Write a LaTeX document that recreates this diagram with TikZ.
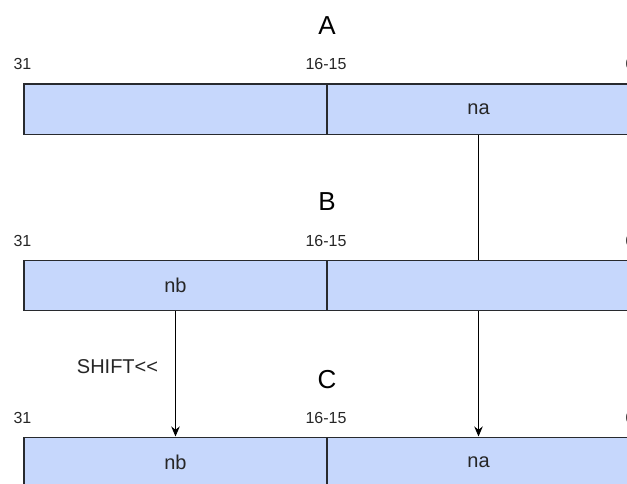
\documentclass[tikz,border=0pt]{standalone}
\usepackage{fontspec}
\setmainfont{Liberation Sans}[Ligatures=NoCommon]
\usetikzlibrary{arrows.meta}
\definecolor{cellfill}{RGB}{198,215,252}
\definecolor{cellline}{RGB}{40,42,46}
\begin{document}
\begin{tikzpicture}[x=1pt,y=-1pt,
  cell/.style={draw=cellline,fill=cellfill,line width=1.1pt,minimum width=303pt,minimum height=50.5pt,inner sep=0pt,
    font=\fontsize{20}{24}\selectfont,text=black!85},
  bitlbl/.style={anchor=base,inner sep=0pt,font=\fontsize{16}{19}\selectfont,text=black!85},
  title/.style={anchor=base,inner sep=0pt,font=\fontsize{26}{30}\selectfont,text=black},
  conn/.style={draw=black,line width=0.9pt},
  arr/.style={conn,-{Stealth[length=10pt,width=8.5pt]}},
  note/.style={anchor=base,inner sep=0pt,font=\fontsize{20}{24}\selectfont,text=black!85}]
\useasboundingbox (0,0) rectangle (627,484);
\clip (0,0) rectangle (627,484);
% titles
\node[title] (tA) at (327,35) {A};
\node[title] (tB) at (327,211) {B};
\node[title] (tC) at (327,388) {C};
% bit labels
\node[bitlbl] (a31) at (22.5,70) {31};
\node[bitlbl] (a16) at (326,70) {16-15};
\node[bitlbl] (a0) at (630,70) {0};
\node[bitlbl] (b31) at (22.5,247) {31};
\node[bitlbl] (b16) at (326,247) {16-15};
\node[bitlbl] (b0) at (630,247) {0};
\node[bitlbl] (c31) at (22.5,423) {31};
\node[bitlbl] (c16) at (326,423) {16-15};
\node[bitlbl] (c0) at (630,423) {0};
% row A
\node[cell] (AL) at (175.5,109.25) {};
\node[cell] (AR) at (478.5,109.25) {na};
% row B
\node[cell] (BL) at (175.5,285.5) {nb};
\node[cell] (BR) at (478.5,285.5) {};
% row C
\node[cell] (CL) at (175.5,462.3) {nb};
\node[cell] (CR) at (478.5,462.3) {na};
% connectors
\draw[conn] (AR.south) -- (BR.north);
\draw[arr] (BR.south) -- (CR.north);
\draw[arr] (BL.south) -- (CL.north);
\node[note] (shift) at (117.5,373) {SHIFT{<}\kern0pt{<}};
\end{tikzpicture}
\end{document}
